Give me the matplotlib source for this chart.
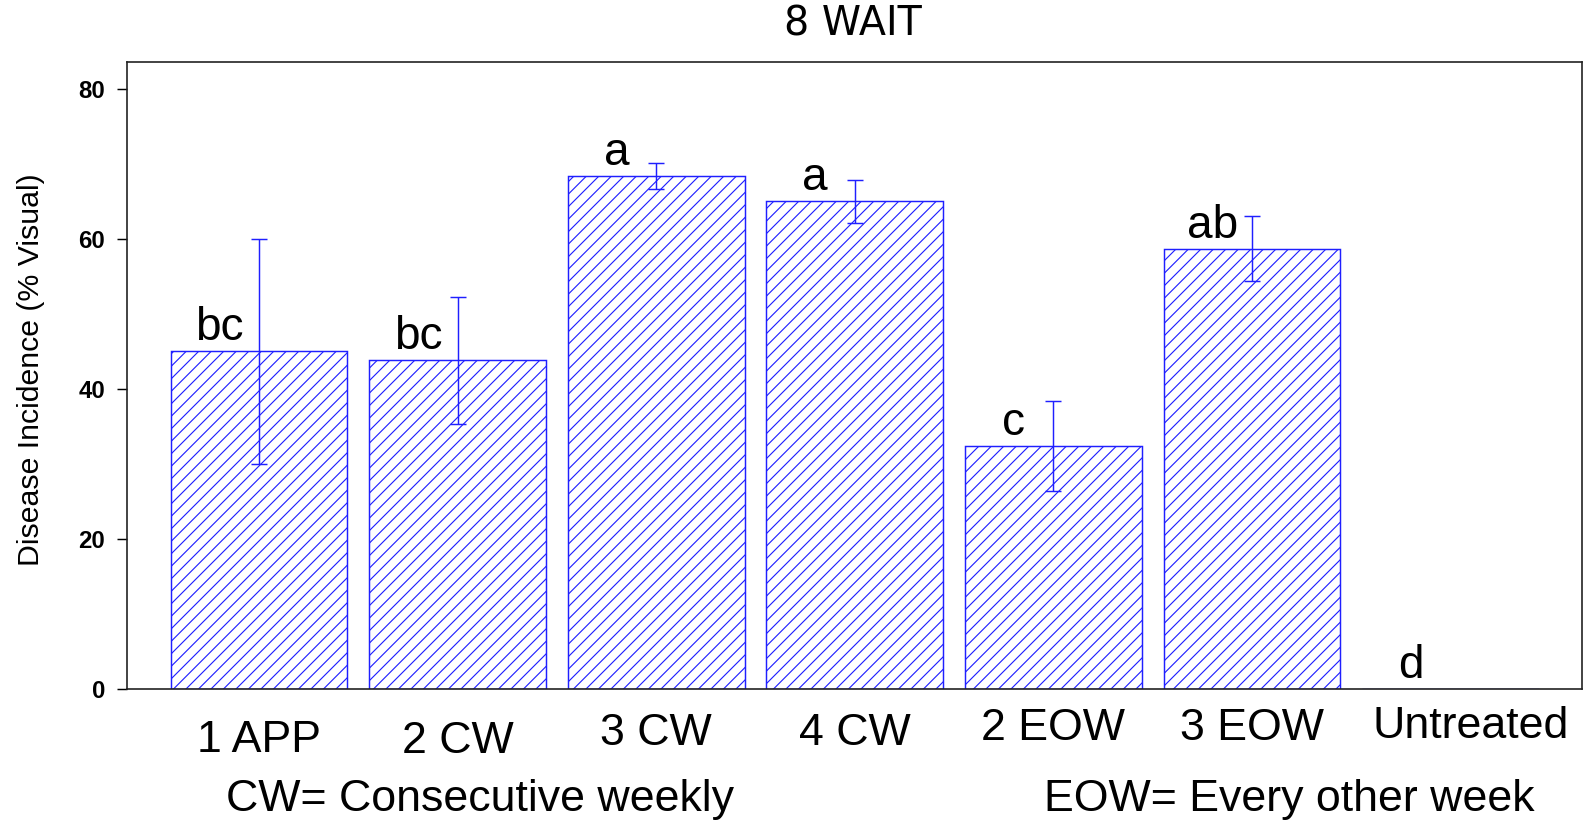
import numpy as np
import matplotlib
matplotlib.use('Agg')
import matplotlib.pyplot as plt
import matplotlib.transforms as mtransforms

# data
treatments = ['1 APP', '2 CW', '3 CW', '4 CW', '2 EOW', '3 EOW', 'Untreated']
incidence = [45.0, 43.8, 68.4, 65.0, 32.4, 58.7, 0.0]
std_err = [15.0, 8.5, 1.7, 2.9, 6.0, 4.3, 0.0]
letters = ['bc', 'bc', 'a', 'a', 'c', 'ab', 'd']
yticks = [0, 20, 40, 60, 80]

# layout (pixel rows of the category labels, x nudges)
label_y_px = [740, 741, 733, 733, 728, 728, 726]
label_dx = [0, 0, 0, 0, 0, 0, 0.1]

W, H, DPI = 1585, 822, 150
plt.rcParams['font.family'] = ['Liberation Sans', 'DejaVu Sans']
plt.rcParams['hatch.linewidth'] = 0.55

fig = plt.figure(figsize=(W / DPI, H / DPI), dpi=DPI)
ax = fig.add_axes([127 / W, 1 - 689 / H, (1582 - 127) / W, (689 - 62) / H])

blue = '#1f1fff'
x = np.arange(len(treatments))
ax.bar(x, incidence, width=0.89, facecolor='white', edgecolor=blue,
       hatch='////', linewidth=0.7, zorder=2)
ax.errorbar(x[:-1], incidence[:-1], yerr=std_err[:-1], fmt='none', ecolor=blue,
            elinewidth=0.7, capsize=3.8, capthick=0.7, zorder=3)

for i in range(len(treatments)):
    ax.text(x[i] - 0.2, incidence[i] + 1.5, letters[i], ha='center', va='baseline',
            fontsize=22, color='black', zorder=4)

ax.set_xlim(-0.665, 6.662)
ax.set_ylim(0, 83.6)
ax.set_xticks([])
ax.set_yticks(yticks)
ax.set_yticklabels([str(t) for t in yticks], fontsize=11.5, fontweight='bold')
ax.tick_params(axis='y', direction='out', length=4.8, width=0.7, pad=5.8)
for s in ax.spines.values():
    s.set_linewidth(0.8)
    s.set_color('#222222')

trans = mtransforms.blended_transform_factory(ax.transData, fig.transFigure)
for i, name in enumerate(treatments):
    ax.text(x[i] + label_dx[i], 1 - label_y_px[i] / H, name, transform=trans,
            ha='center', va='center', fontsize=21.5, clip_on=False)

fig.text(480 / W, 1 - 799 / H, 'CW= Consecutive weekly', ha='center', va='center',
         fontsize=21.5)
fig.text(1289 / W, 1 - 799 / H, 'EOW= Every other week', ha='center', va='center',
         fontsize=21.5)

fig.text(31 / W, 1 - 370 / H, 'Disease Incidence (% Visual)', rotation=90,
         ha='center', va='center', fontsize=14.5)
fig.text(853 / W, 1 - 24 / H, '8 WAIT', ha='center', va='center', fontsize=19,
         family='DejaVu Sans')

fig.savefig('out.png', dpi=DPI)
